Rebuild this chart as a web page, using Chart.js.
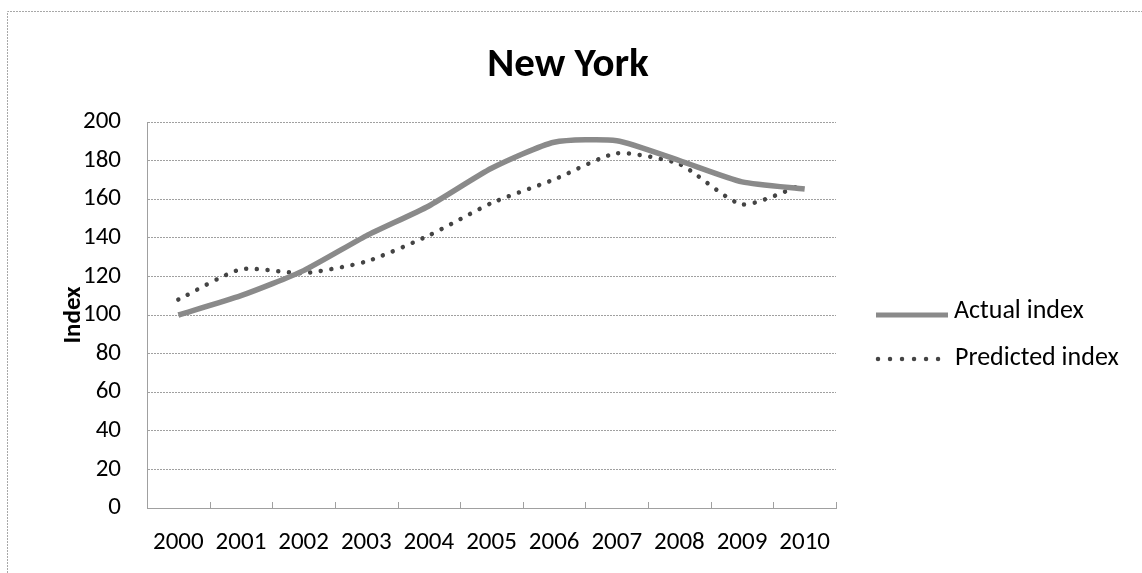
<!DOCTYPE html>
<html>
<head>
<meta charset="utf-8">
<script src="https://cdn.jsdelivr.net/npm/chart.js@4/dist/chart.umd.min.js"></script>
<style>
  html, body { margin: 0; padding: 0; background: #fff; }
  #wrap { width: 1142px; height: 573px; position: relative; }
</style>
</head>
<body>
<div id="wrap"><canvas id="c" width="1142" height="573"></canvas></div>
<script>
// Annual house price index, New York
const years = ['2000', '2001', '2002', '2003', '2004', '2005', '2006', '2007', '2008', '2009', '2010'];
const actualIndex = [100, 110, 123, 141, 156.5, 176, 189.5, 190.3, 180, 169, 165.3];
const predictedIndex = [108, 123.7, 121.7, 127.7, 141.2, 158, 170.2, 183.8, 178.2, 157.3, 168];
const seriesNames = ['Actual index', 'Predicted index'];
const chartTitle = 'New York';
const yAxisTitle = 'Index';
const yMin = 0, yMax = 200, yStep = 20;

const FONT = '"Carlito", "Open Sans", sans-serif';
const GRID = '#a0a0a0';
const ACTUAL_COLOR = '#8a8a8a';
const PRED_COLOR = '#444444';

// Frame, title, axis title, category tick marks and legend
const decorations = {
  id: 'decorations',
  beforeDraw(chart) {
    const ctx = chart.ctx;
    ctx.save();
    ctx.strokeStyle = '#a8a8a8';
    ctx.lineWidth = 1;
    ctx.setLineDash([2, 1]);
    ctx.beginPath();
    ctx.moveTo(7.5, 573);
    ctx.lineTo(7.5, 11.5);
    ctx.lineTo(1142, 11.5);
    ctx.stroke();
    ctx.restore();
  },
  afterDatasetsDraw(chart) {
    const ctx = chart.ctx;
    const area = chart.chartArea;
    const x = chart.scales.x;
    ctx.save();
    // small inward tick marks between categories
    const step = x.getPixelForValue(1) - x.getPixelForValue(0);
    ctx.strokeStyle = GRID;
    ctx.lineWidth = 1;
    for (let i = 0; i < years.length; i++) {
      const px = Math.round(x.getPixelForValue(i) + step / 2) + 0.5;
      ctx.beginPath();
      ctx.moveTo(px, area.bottom);
      ctx.lineTo(px, area.bottom - 6);
      ctx.stroke();
    }
    ctx.restore();
  },
  afterDraw(chart) {
    const ctx = chart.ctx;
    const area = chart.chartArea;
    ctx.save();
    ctx.fillStyle = '#000';
    // title
    ctx.font = 'bold 41px ' + FONT;
    ctx.textAlign = 'center';
    ctx.textBaseline = 'alphabetic';
    ctx.fillText(chartTitle, 568, 76);
    // y axis title
    ctx.save();
    ctx.translate(80, (area.top + area.bottom) / 2);
    ctx.rotate(-Math.PI / 2);
    ctx.font = 'bold 25px ' + FONT;
    ctx.fillText(yAxisTitle, 0, 0);
    ctx.restore();
    // legend
    ctx.strokeStyle = ACTUAL_COLOR;
    ctx.lineWidth = 5;
    ctx.beginPath();
    ctx.moveTo(876, 315);
    ctx.lineTo(948, 315);
    ctx.stroke();
    ctx.strokeStyle = PRED_COLOR;
    ctx.lineWidth = 4.5;
    ctx.lineCap = 'round';
    ctx.setLineDash([0.01, 12]);
    ctx.beginPath();
    ctx.moveTo(878, 359);
    ctx.lineTo(940, 359);
    ctx.stroke();
    ctx.setLineDash([]);
    ctx.font = '26px ' + FONT;
    ctx.textAlign = 'left';
    ctx.fillText(seriesNames[0], 954, 318);
    ctx.fillText(seriesNames[1], 955, 365);
    ctx.restore();
  }
};

new Chart(document.getElementById('c'), {
  type: 'line',
  data: {
    labels: years,
    datasets: [
      {
        label: seriesNames[0],
        data: actualIndex,
        borderColor: ACTUAL_COLOR,
        borderWidth: 5.5,
        pointRadius: 0,
        tension: 0.2,
        fill: false
      },
      {
        label: seriesNames[1],
        data: predictedIndex,
        borderColor: PRED_COLOR,
        borderWidth: 4.5,
        borderDash: [0.01, 10.7],
        borderCapStyle: 'round',
        pointRadius: 0,
        tension: 0.2,
        fill: false
      }
    ]
  },
  options: {
    responsive: false,
    animation: false,
    devicePixelRatio: 1,
    layout: { padding: { top: 122, right: 306, left: 0, bottom: 0 } },
    plugins: {
      legend: { display: false },
      title: { display: false },
      tooltip: { enabled: false }
    },
    scales: {
      x: {
        type: 'category',
        offset: true,
        grid: { display: false, drawTicks: false },
        border: { display: true, color: GRID, width: 1, dash: [2, 1] },
        ticks: { color: '#000', font: { family: FONT, size: 25 }, padding: 20, maxRotation: 0, autoSkip: false },
        afterFit(s) { s.height = 65; }
      },
      y: {
        min: yMin,
        max: yMax,
        grid: { color: GRID, lineWidth: 1, drawTicks: false },
        border: { display: true, color: GRID, width: 1, dash: [2, 1] },
        ticks: { stepSize: yStep, color: '#000', font: { family: FONT, size: 25 }, padding: 26 },
        afterFit(s) { s.width = 147; }
      }
    }
  },
  plugins: [decorations]
});
</script>
</body>
</html>
